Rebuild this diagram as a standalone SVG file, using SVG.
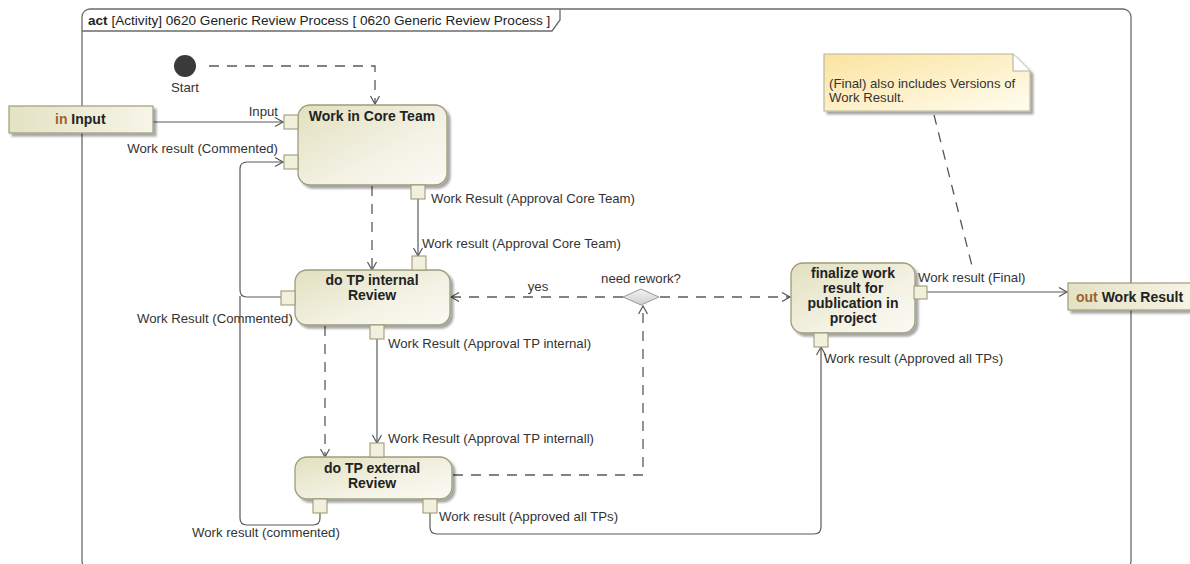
<svg xmlns="http://www.w3.org/2000/svg" width="1190" height="564" viewBox="0 0 1190 564">
  <defs>
    <linearGradient id="actFill" x1="0" y1="0" x2="1" y2="1">
      <stop offset="0" stop-color="#e2e0bf"/>
      <stop offset="0.6" stop-color="#f3f2e4"/>
      <stop offset="1" stop-color="#fafaf4"/>
    </linearGradient>
    <linearGradient id="paramFill" x1="0" y1="0" x2="1" y2="0">
      <stop offset="0" stop-color="#e4e2c3"/>
      <stop offset="1" stop-color="#f6f5e8"/>
    </linearGradient>
    <linearGradient id="noteFill" x1="0" y1="0" x2="1" y2="1">
      <stop offset="0" stop-color="#fbe3a0"/>
      <stop offset="1" stop-color="#fffdf0"/>
    </linearGradient>
    <linearGradient id="diamondFill" x1="0" y1="0" x2="0" y2="1">
      <stop offset="0" stop-color="#f2f2f2"/>
      <stop offset="1" stop-color="#cfcfcf"/>
    </linearGradient>
    <filter id="shadow" x="-10%" y="-10%" width="130%" height="140%">
      <feGaussianBlur in="SourceAlpha" stdDeviation="1.2"/>
      <feOffset dx="3" dy="3" result="off"/>
      <feComponentTransfer><feFuncA type="linear" slope="0.35"/></feComponentTransfer>
      <feMerge><feMergeNode/><feMergeNode in="SourceGraphic"/></feMerge>
    </filter>
    <marker id="arrow" markerWidth="12" markerHeight="12" refX="9" refY="5" orient="auto" markerUnits="userSpaceOnUse">
      <path d="M1,0.5 L9,5 L1,9.5" fill="none" stroke="#555" stroke-width="1.2"/>
    </marker>
  </defs>
  <style>
    .frame { fill: none; stroke: #6b6b6b; stroke-width: 1.3; }
    .action { fill: url(#actFill); stroke: #9e9c7a; stroke-width: 1.3; filter: url(#shadow); }
    .param { fill: url(#paramFill); stroke: #9e9c7a; stroke-width: 1.2; filter: url(#shadow); }
    .pin { fill: #f1f0dc; stroke: #9e9c7a; stroke-width: 1.1; }
    .flow { fill: none; stroke: #5a5a5a; stroke-width: 1.2; }
    .ctrl { fill: none; stroke: #5a5a5a; stroke-width: 1.3; stroke-dasharray: 10 8; }
    .anchor { fill: none; stroke: #555; stroke-width: 1.3; stroke-dasharray: 10 8; }
    .lbl { font-family: "Liberation Sans", Arial, sans-serif; font-size: 13.2px; fill: #333; }
    .hdr { font-family: "Liberation Sans", Arial, sans-serif; font-size: 13.6px; fill: #222; }
    .title { font-family: "Liberation Sans", Arial, sans-serif; font-size: 14px; font-weight: bold; fill: #222; text-anchor: middle; }
    .ptitle { font-family: "Liberation Sans", Arial, sans-serif; font-size: 14px; font-weight: bold; fill: #222; }
    .kw { fill: #a0622e; }
  </style>

  <rect width="1190" height="564" fill="#ffffff"/>

  <!-- activity frame -->
  <g id="frame">
    <rect class="frame" x="82" y="9" width="1049" height="560" rx="8"/>
    <path class="frame" d="M82,31 H552 L560,20 V9"/>
    <text class="hdr" x="88" y="25"><tspan font-weight="bold">act</tspan> [Activity] 0620 Generic Review Process [ 0620 Generic Review Process ]</text>
  </g>

  <!-- object and control flows -->
  <g id="connectors">
    <path class="ctrl" d="M209,66 H375 V104" marker-end="url(#arrow)"/>
    <path class="flow" d="M153,122 H283" marker-end="url(#arrow)"/>
    <path class="flow" d="M281,297 H247 Q240,297 240,290 V169 Q240,162 247,162 H283" marker-end="url(#arrow)"/>
    <path class="flow" d="M320,513 V518 Q320,525 313,525 H247 Q240,525 240,518 V296"/>
    <path class="flow" d="M418,199 V256" marker-end="url(#arrow)"/>
    <path class="ctrl" d="M372,186 V270" marker-end="url(#arrow)"/>
    <path class="flow" d="M377,339 V443" marker-end="url(#arrow)"/>
    <path class="ctrl" d="M325,326 V457" marker-end="url(#arrow)"/>
    <path class="ctrl" d="M453,475 H643 V306" marker-end="url(#arrow)"/>
    <path class="ctrl" d="M623,297 H451" marker-end="url(#arrow)"/>
    <path class="ctrl" d="M660,297 H790" marker-end="url(#arrow)"/>
    <path class="flow" d="M430,513 V527 Q430,534 437,534 H814 Q821,534 821,527 V347" marker-end="url(#arrow)"/>
    <path class="flow" d="M927,292 H1067" marker-end="url(#arrow)"/>
    <path class="anchor" d="M934,115 L973,270"/>
  </g>

  <!-- initial node -->
  <g id="start">
    <circle cx="185" cy="66" r="11" fill="#3a3a3a"/>
    <text class="lbl" x="185" y="92" text-anchor="middle">Start</text>
  </g>

  <!-- input parameter -->
  <g id="param-input">
    <rect class="param" x="9" y="106" width="144" height="27"/>
    <text class="ptitle" x="55" y="124"><tspan class="kw">in</tspan> Input</text>
  </g>

  <!-- Work in Core Team -->
  <g id="work-core-team">
    <rect class="action" x="298" y="105" width="149" height="80" rx="12"/>
    <text class="title" x="372" y="121">Work in Core Team</text>
    <rect class="pin" x="284" y="115" width="14" height="14"/>
    <rect class="pin" x="284" y="155" width="14" height="14"/>
    <rect class="pin" x="411" y="185" width="14" height="14"/>
    <text class="lbl" x="278" y="116" text-anchor="end">Input</text>
    <text class="lbl" x="278" y="153" text-anchor="end">Work result (Commented)</text>
    <text class="lbl" x="431" y="203">Work Result (Approval Core Team)</text>
  </g>

  <!-- do TP internal Review -->
  <g id="tp-internal">
    <rect class="action" x="295" y="270" width="155" height="55" rx="12"/>
    <text class="title" x="372" y="285">do TP internal</text>
    <text class="title" x="372" y="300">Review</text>
    <rect class="pin" x="412" y="256" width="14" height="14"/>
    <rect class="pin" x="281" y="291" width="14" height="14"/>
    <rect class="pin" x="370" y="325" width="14" height="14"/>
    <text class="lbl" x="422" y="248">Work result (Approval Core Team)</text>
    <text class="lbl" x="137" y="323">Work Result (Commented)</text>
    <text class="lbl" x="388" y="348">Work Result (Approval TP internal)</text>
  </g>

  <!-- do TP external Review -->
  <g id="tp-external">
    <rect class="action" x="295" y="457" width="157" height="42" rx="12"/>
    <text class="title" x="372" y="473">do TP external</text>
    <text class="title" x="372" y="488">Review</text>
    <rect class="pin" x="370" y="443" width="14" height="14"/>
    <rect class="pin" x="313" y="499" width="14" height="14"/>
    <rect class="pin" x="423" y="499" width="14" height="14"/>
    <text class="lbl" x="388" y="443">Work Result (Approval TP internall)</text>
    <text class="lbl" x="192" y="537">Work result (commented)</text>
    <text class="lbl" x="439" y="521">Work result (Approved all TPs)</text>
  </g>

  <!-- decision -->
  <g id="need-rework">
    <polygon points="623,297 641,289 659,297 641,305" fill="url(#diamondFill)" stroke="#999" stroke-width="1"/>
    <text class="lbl" x="641" y="283" text-anchor="middle">need rework?</text>
    <text class="lbl" x="538" y="291" text-anchor="middle">yes</text>
  </g>

  <!-- finalize -->
  <g id="finalize">
    <rect class="action" x="791" y="263" width="124" height="70" rx="12"/>
    <text class="title" x="853" y="278">finalize work</text>
    <text class="title" x="853" y="293">result for</text>
    <text class="title" x="853" y="308">publication in</text>
    <text class="title" x="853" y="323">project</text>
    <rect class="pin" x="914" y="286" width="13" height="13"/>
    <rect class="pin" x="814" y="333" width="14" height="14"/>
    <text class="lbl" x="918" y="282">Work result (Final)</text>
    <text class="lbl" x="824" y="363">Work result (Approved all TPs)</text>
  </g>

  <!-- output parameter -->
  <g id="param-output">
    <rect class="param" x="1068" y="283" width="130" height="27"/>
    <text class="ptitle" x="1076" y="302"><tspan class="kw">out</tspan> Work Result</text>
  </g>

  <!-- comment -->
  <g id="note">
    <path d="M824,54 H1013 L1030,71 V111 H824 Z" fill="url(#noteFill)" stroke="#b7b39a" stroke-width="1.1" filter="url(#shadow)"/>
    <path d="M1013,54 V71 H1030" fill="#ffffff" stroke="#b7b39a" stroke-width="1.1"/>
    <text class="lbl" x="829" y="88">(Final) also includes Versions of</text>
    <text class="lbl" x="829" y="102">Work Result.</text>
  </g>
</svg>
